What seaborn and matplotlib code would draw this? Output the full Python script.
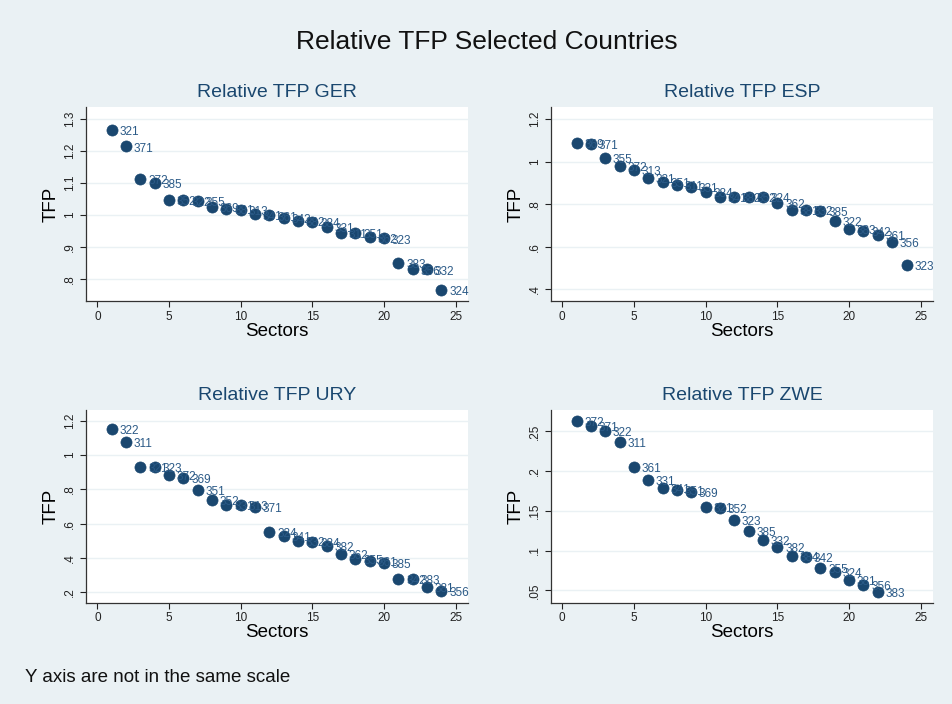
import matplotlib
matplotlib.use("Agg")
import matplotlib.pyplot as plt
import matplotlib.ticker as mticker
import seaborn as sns
import pandas as pd
import numpy as np

# ---------------- data ----------------
ger_vals = [1.266, 1.214, 1.113, 1.101, 1.046, 1.045, 1.042, 1.025, 1.019, 1.014, 1.001, 0.998,
            0.990, 0.982, 0.977, 0.962, 0.943, 0.942, 0.929, 0.926, 0.848, 0.829, 0.829, 0.766]
ger_labels = ["321", "371", "372", "385", "352", "322", "355", "369", "381", "313", "341", "361",
              "342", "382", "384", "331", "311", "351", "362", "323", "383", "356", "332", "324"]

esp_vals = [1.087, 1.081, 1.018, 0.979, 0.960, 0.924, 0.906, 0.892, 0.879, 0.859, 0.835, 0.832,
            0.832, 0.832, 0.804, 0.774, 0.774, 0.769, 0.723, 0.682, 0.676, 0.655, 0.624, 0.516]
esp_labels = ["369", "371", "355", "372", "313", "321", "351", "311", "331", "384", "341", "382",
              "352", "324", "362", "381", "332", "385", "322", "383", "342", "361", "356", "323"]

ury_vals = [1.155, 1.077, 0.929, 0.929, 0.886, 0.867, 0.797, 0.736, 0.711, 0.707, 0.695, 0.549,
            0.526, 0.498, 0.492, 0.471, 0.422, 0.391, 0.383, 0.368, 0.278, 0.276, 0.227, 0.208]
ury_labels = ["322", "311", "321", "323", "372", "369", "351", "352", "331", "313", "371", "324",
              "341", "332", "384", "382", "362", "355", "361", "385", "342", "383", "381", "356"]

zwe_vals = [0.263, 0.2567, 0.250, 0.2362, 0.2056, 0.1888, 0.1787, 0.1762, 0.1737, 0.1552, 0.1531,
            0.1389, 0.1246, 0.1133, 0.1041, 0.0932, 0.0915, 0.0781, 0.0726, 0.0634, 0.0563, 0.0479]
zwe_labels = ["372", "371", "322", "311", "361", "331", "341", "351", "369", "321", "352",
              "323", "385", "332", "382", "384", "342", "355", "324", "381", "356", "383"]

panels = [
    ("Relative TFP GER", ger_vals, ger_labels, [0.8, 0.9, 1.0, 1.1, 1.2, 1.3], (0.730, 1.3376)),
    ("Relative TFP ESP", esp_vals, esp_labels, [0.4, 0.6, 0.8, 1.0, 1.2], (0.345, 1.256)),
    ("Relative TFP URY", ury_vals, ury_labels, [0.2, 0.4, 0.6, 0.8, 1.0, 1.2], (0.1374, 1.264)),
    ("Relative TFP ZWE", zwe_vals, zwe_labels, [0.05, 0.10, 0.15, 0.20, 0.25], (0.0344, 0.2768)),
]

# ---------------- style ----------------
BG = "#EAF1F4"
NAVY = "#1a476f"
GRID = "#EAF1F4"

plt.rcParams["font.family"] = ["Liberation Sans", "DejaVu Sans"]

fig = plt.figure(figsize=(9.52, 7.04), dpi=100, facecolor=BG)

positions = [
    (0.0903, 0.5724, 0.4013, 0.2756),
    (0.5785, 0.5724, 0.4016, 0.2756),
    (0.0903, 0.1439, 0.4013, 0.2737),
    (0.5785, 0.1439, 0.4016, 0.2737),
]


def stata_fmt(v, pos):
    s = f"{v:.2f}".rstrip("0").rstrip(".")
    if s.startswith("0."):
        s = s[1:]
    return s


for (title, vals, labs, yticks, ylim), rect in zip(panels, positions):
    ax = fig.add_axes(rect)
    ax.set_facecolor("white")
    df = pd.DataFrame({"Sectors": np.arange(1, len(vals) + 1), "TFP": vals, "label": labs})
    sns.scatterplot(data=df, x="Sectors", y="TFP", ax=ax, color=NAVY, s=64,
                    edgecolor=NAVY, linewidth=0.5, zorder=3)
    for _, r in df.iterrows():
        ax.annotate(r["label"], (r["Sectors"], r["TFP"]), xytext=(5.5, -1.5),
                    textcoords="offset points", fontsize=8.5, color="#2b5a87",
                    va="center", ha="left", zorder=4)
    ax.set_xlim(-0.8, 25.85)
    ax.set_ylim(*ylim)
    ax.set_xticks([0, 5, 10, 15, 20, 25])
    ax.set_yticks(yticks)
    ax.yaxis.set_major_formatter(mticker.FuncFormatter(stata_fmt))
    ax.grid(axis="y", color=GRID, linewidth=1.0, zorder=0)
    ax.grid(axis="x", visible=False)
    for s in ["top", "right"]:
        ax.spines[s].set_visible(False)
    for s in ["left", "bottom"]:
        ax.spines[s].set_color("#333333")
        ax.spines[s].set_linewidth(0.9)
    ax.tick_params(axis="both", labelsize=8.5, colors="#222222", length=4, width=0.8, pad=3)
    for t in ax.get_yticklabels():
        t.set_rotation(90)
        t.set_va("center")
    ax.set_xlabel("Sectors", fontsize=13.5, labelpad=0)
    ax.set_ylabel("TFP", fontsize=13.5, labelpad=3)
    ax.set_title(title, fontsize=14, color=NAVY, pad=7)

fig.text(0.511, 0.94, "Relative TFP Selected Countries", ha="center", va="center",
         fontsize=19, color="#111111")
fig.text(0.026, 0.037, "Y axis are not in the same scale", ha="left", va="center",
         fontsize=13.5, color="#111111")

fig.savefig("out.png", dpi=100, facecolor=BG)
